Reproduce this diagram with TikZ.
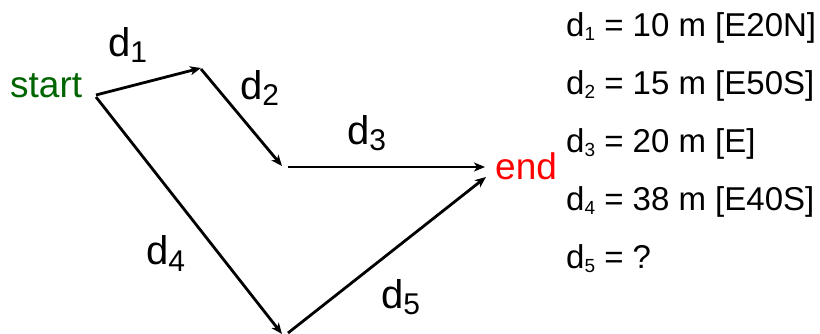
\documentclass[tikz,border=0pt]{standalone}
\usepackage{fontspec}
\setmainfont{Liberation Sans}
\usetikzlibrary{arrows.meta}
\definecolor{startgreen}{RGB}{0,100,0}
\definecolor{endred}{RGB}{255,0,0}
\newcommand{\bigsub}[1]{\raisebox{-6pt}{\fontsize{30}{33}\selectfont #1}}
\newcommand{\smallsub}[1]{\raisebox{-4pt}{\fontsize{19}{21}\selectfont #1}}
\tikzset{
  vec/.style={line width=2.8pt, -{Stealth[length=11pt,width=9pt,inset=3pt]}},
  endlabel/.style={anchor=base west, inner sep=0pt, font=\fontsize{37}{40}\selectfont},
  biglabel/.style={anchor=base west, inner sep=0pt, font=\fontsize{40}{44}\selectfont},
  listline/.style={anchor=base west, inner sep=0pt, font=\fontsize{33}{38}\selectfont},
}
\begin{document}
\begin{tikzpicture}[x=1pt,y=-1pt]
\useasboundingbox (0,0) rectangle (820,334);
% text nodes
\node[endlabel, text=startgreen] (start) at (10,98) {start};
\node[endlabel, text=endred] (end) at (495,180) {end};
% vertices
\coordinate (s1) at (96,95);
\coordinate (s4) at (96,97);
\coordinate (p1) at (201,68);
\coordinate (p1b) at (201,69);
\coordinate (p2) at (282,166);
\coordinate (p3s) at (288,167);
\coordinate (e3) at (485,167);
\coordinate (p4) at (282,334);
\coordinate (p5s) at (288,333);
\coordinate (e5) at (486,177);
% vectors
\draw[vec] (s1) -- (p1);
\draw[vec] (p1b) -- (p2);
\draw[vec] (p3s) -- (e3);
\draw[vec] (s4) -- (p4);
\draw[vec] (p5s) -- (e5);
% vector labels
\node[biglabel] (l1) at (108,57) {d\bigsub{1}};
\node[biglabel] (l2) at (240,100) {d\bigsub{2}};
\node[biglabel] (l3) at (347,145) {d\bigsub{3}};
\node[biglabel] (l4) at (146,265) {d\bigsub{4}};
\node[biglabel] (l5) at (381,308) {d\bigsub{5}};
% list
\node[listline] (t1) at (566,37) {d\smallsub{1} = 10 m [E20N]};
\node[listline] (t2) at (566,95) {d\smallsub{2} = 15 m [E50S]};
\node[listline] (t3) at (566,153) {d\smallsub{3} = 20 m [E]};
\node[listline] (t4) at (566,211) {d\smallsub{4} = 38 m [E40S]};
\node[listline] (t5) at (566,269) {d\smallsub{5} = ?};
\end{tikzpicture}
\end{document}
